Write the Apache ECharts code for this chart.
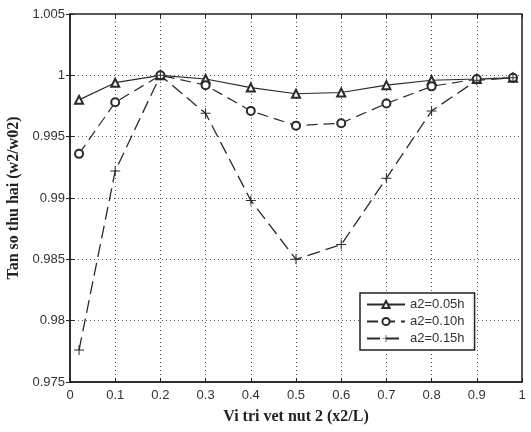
<!DOCTYPE html>
<html>
<head>
<meta charset="utf-8">
<script src="https://cdn.jsdelivr.net/npm/echarts@6/dist/echarts.min.js"></script>
<style>
  html, body { margin: 0; padding: 0; background: #fff; }
  #chart { width: 531px; height: 432px; }
</style>
</head>
<body>
<div id="chart"></div>
<script>
// crack position x2/L
var xPos = [0.02, 0.1, 0.2, 0.3, 0.4, 0.5, 0.6, 0.7, 0.8, 0.9, 0.98]
// second frequency ratio w2/w02 for each crack depth
var a005 = [0.998, 0.9994, 1.0, 0.9997, 0.999, 0.9985, 0.9986, 0.9992, 0.9996, 0.9997, 0.9998]
var a010 = [0.9936, 0.9978, 1.0, 0.9992, 0.9971, 0.9959, 0.9961, 0.9977, 0.9991, 0.9997, 0.9998]
var a015 = [0.9776, 0.9922, 1.0, 0.9969, 0.9898, 0.985, 0.9862, 0.9916, 0.9971, 0.9996, 0.9998]
var names = ['a2=0.05h', 'a2=0.10h', 'a2=0.15h']

var lineColor = '#2b2b2b'
var plusIcon = 'path://M4.5,0h1v4.5h4.5v1h-4.5v4.5h-1v-4.5h-4.5v-1h4.5z'

function pairs(ys) {
  return ys.map(function(y, i) { return [xPos[i], y] })
}

var chart = echarts.init(document.getElementById('chart'))

var gridLine = { show: true, lineStyle: { color: '#555', type: [1, 3], width: 1 } }
var tickLabel = { color: '#333', fontFamily: 'Liberation Sans', fontSize: 13 }

chart.setOption({
  backgroundColor: '#fff',
  animation: false,
  grid: {
    left: 70, top: 14, right: 9, bottom: 50,
    outerBoundsMode: 'none',
    show: true, borderColor: '#222', borderWidth: 1.5
  },
  legend: {
    left: 360, top: 293,
    orient: 'vertical',
    data: names,
    backgroundColor: '#fff',
    borderColor: '#222', borderWidth: 1.5,
    padding: [5, 10, 5, 6],
    itemGap: 4,
    itemWidth: 38, itemHeight: 9,
    textStyle: { fontFamily: 'Liberation Sans', fontSize: 13, color: '#333' }
  },
  xAxis: [{
    type: 'value', min: 0, max: 1, interval: 0.1,
    name: 'Vi tri vet nut 2 (x2/L)', nameLocation: 'middle', nameGap: 27,
    nameTextStyle: { fontFamily: 'Liberation Serif', fontWeight: 'bold', fontSize: 16, color: '#222' },
    axisLine: { show: true, lineStyle: { color: '#222', width: 1.5 } },
    axisTick: { show: true, inside: true, length: 4, lineStyle: { color: '#222' } },
    axisLabel: Object.assign({ margin: 7 }, tickLabel),
    splitLine: gridLine
  }, {
    type: 'value', position: 'top', min: 0, max: 1, interval: 0.1,
    axisLine: { show: false },
    axisTick: { show: true, inside: true, length: 4, lineStyle: { color: '#222' } },
    axisLabel: { show: false }, splitLine: { show: false }
  }],
  yAxis: [{
    type: 'value', min: 0.975, max: 1.005, interval: 0.005,
    name: 'Tan so thu hai (w2/w02)', nameLocation: 'middle', nameGap: 44,
    nameTextStyle: { fontFamily: 'Liberation Serif', fontWeight: 'bold', fontSize: 16, color: '#222' },
    axisLine: { show: true, lineStyle: { color: '#222', width: 1.5 } },
    axisTick: { show: true, inside: true, length: 4, lineStyle: { color: '#222' } },
    axisLabel: Object.assign({ margin: 5 }, tickLabel),
    splitLine: gridLine
  }, {
    type: 'value', position: 'right', min: 0.975, max: 1.005, interval: 0.005,
    axisLine: { show: false },
    axisTick: { show: true, inside: true, length: 4, lineStyle: { color: '#222' } },
    axisLabel: { show: false }, splitLine: { show: false }
  }],
  series: [{
    name: names[0], type: 'line', data: pairs(a005),
    symbol: 'emptyTriangle', symbolSize: 8,
    itemStyle: { color: lineColor, borderColor: lineColor, borderWidth: 1 },
    lineStyle: { color: lineColor, width: 1.2, type: 'solid' }
  }, {
    name: names[1], type: 'line', data: pairs(a010),
    symbol: 'emptyCircle', symbolSize: 8,
    itemStyle: { color: lineColor, borderColor: lineColor, borderWidth: 1 },
    lineStyle: { color: lineColor, width: 1.2, type: [11, 6] }
  }, {
    name: names[2], type: 'line', data: pairs(a015),
    symbol: plusIcon, symbolSize: 10,
    itemStyle: { color: lineColor },
    lineStyle: { color: lineColor, width: 1.3, type: [13, 6] }
  }]
})
</script>
</body>
</html>
